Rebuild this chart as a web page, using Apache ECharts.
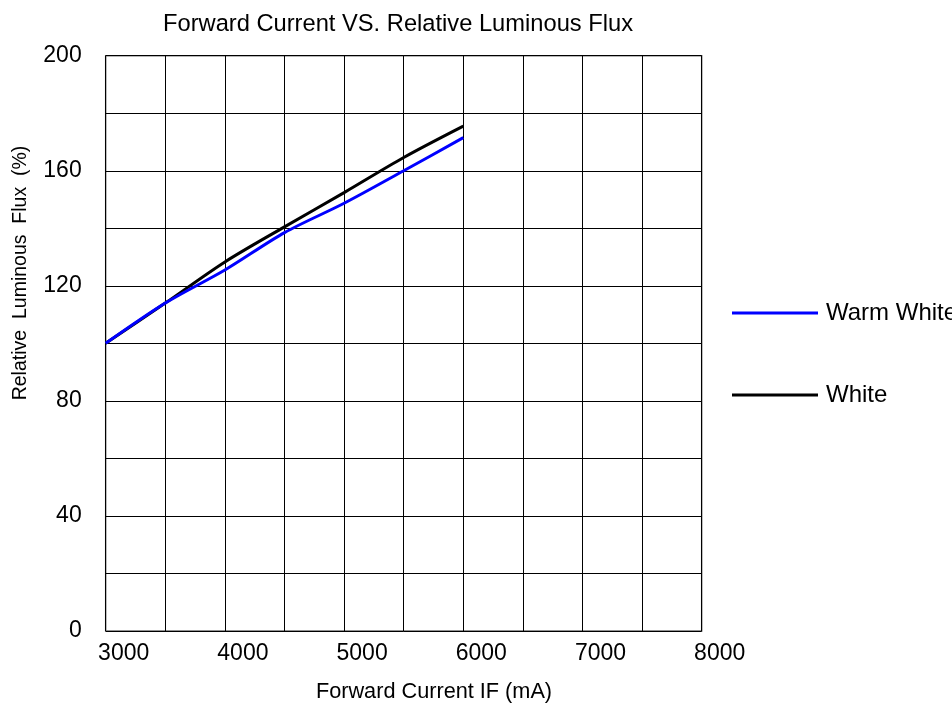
<!DOCTYPE html>
<html>
<head>
<meta charset="utf-8">
<script src="https://cdn.jsdelivr.net/npm/echarts@6/dist/echarts.min.js"></script>
<style>html,body{margin:0;padding:0;background:#fff}#c{width:952px;height:709px}</style>
</head>
<body>
<div id="c"></div>
<script>
var currents = [3000, 3500, 4000, 4500, 5000, 5500, 6000];
var warmWhite = [100, 114, 125.5, 138.5, 148.7, 160, 171.5];
var white = [100, 114, 128.3, 140.5, 152.4, 164.6, 175.5];
var seriesNames = ['Warm White', 'White'];
var xTickLabels = [3000, 4000, 5000, 6000, 7000, 8000];
var yTickLabels = [0, 40, 80, 120, 160, 200];

var FONT = '"Liberation Sans", Arial, sans-serif';
function pairs(xs, ys) { return xs.map(function (x, i) { return [x, ys[i]]; }); }

var chart = echarts.init(document.getElementById('c'), null, {renderer: 'canvas'});
chart.setOption({
  animation: false,
  backgroundColor: '#fff',
  title: {
    text: 'Forward Current VS. Relative Luminous Flux',
    left: 158, top: 7,
    textStyle: {fontFamily: FONT, fontSize: 23.7, fontWeight: 'normal', color: '#000'}
  },
  grid: {left: 105.7, right: 250.3, top: 55.7, bottom: 78, show: true, borderColor: '#6e6e6e', borderWidth: 1.5},
  legend: {
    orient: 'vertical', left: 732, top: 301, padding: 0, itemWidth: 86, itemHeight: 3, itemGap: 58,
    icon: 'rect',
    textStyle: {fontFamily: FONT, fontSize: 24, color: '#000', padding: [0, 0, 0, 3]},
    data: seriesNames
  },
  xAxis: {
    type: 'value', min: 3000, max: 8000, interval: 500,
    axisLine: {show: false}, axisTick: {show: false},
    splitLine: {show: true, lineStyle: {color: '#000', width: 1}},
    axisLabel: {
      margin: 11, fontFamily: FONT, fontSize: 23, color: '#000',
      padding: [0, 0, 0, 36],
      formatter: function (v) { return xTickLabels.indexOf(v) >= 0 ? String(v) : ''; }
    }
  },
  yAxis: {
    type: 'value', min: 0, max: 200, interval: 20,
    axisLine: {show: false}, axisTick: {show: false},
    splitLine: {show: true, lineStyle: {color: '#000', width: 1}},
    axisLabel: {
      margin: 24, fontFamily: FONT, fontSize: 23, color: '#000',
      formatter: function (v) { return yTickLabels.indexOf(v) >= 0 ? String(v) : ''; }
    }
  },
  graphic: [
    {type: 'text', x: 434, y: 692,
     style: {text: 'Forward Current IF (mA)', font: '21.7px ' + FONT, fill: '#000', align: 'center', verticalAlign: 'middle'}},
    {type: 'text', x: 21, y: 273, rotation: Math.PI / 2,
     style: {text: 'Relative  Luminous  Flux  (%)', font: '19.5px ' + FONT, fill: '#000', align: 'center', verticalAlign: 'middle'}}
  ],
  series: [
    {name: seriesNames[0], type: 'line', data: pairs(currents, warmWhite), smooth: 0.3, showSymbol: false,
     lineStyle: {color: '#0000ff', width: 3}, itemStyle: {color: '#0000ff'}, z: 3},
    {name: seriesNames[1], type: 'line', data: pairs(currents, white), smooth: 0.3, showSymbol: false,
     lineStyle: {color: '#000', width: 3}, itemStyle: {color: '#000'}, z: 2}
  ]
});
</script>
</body>
</html>
